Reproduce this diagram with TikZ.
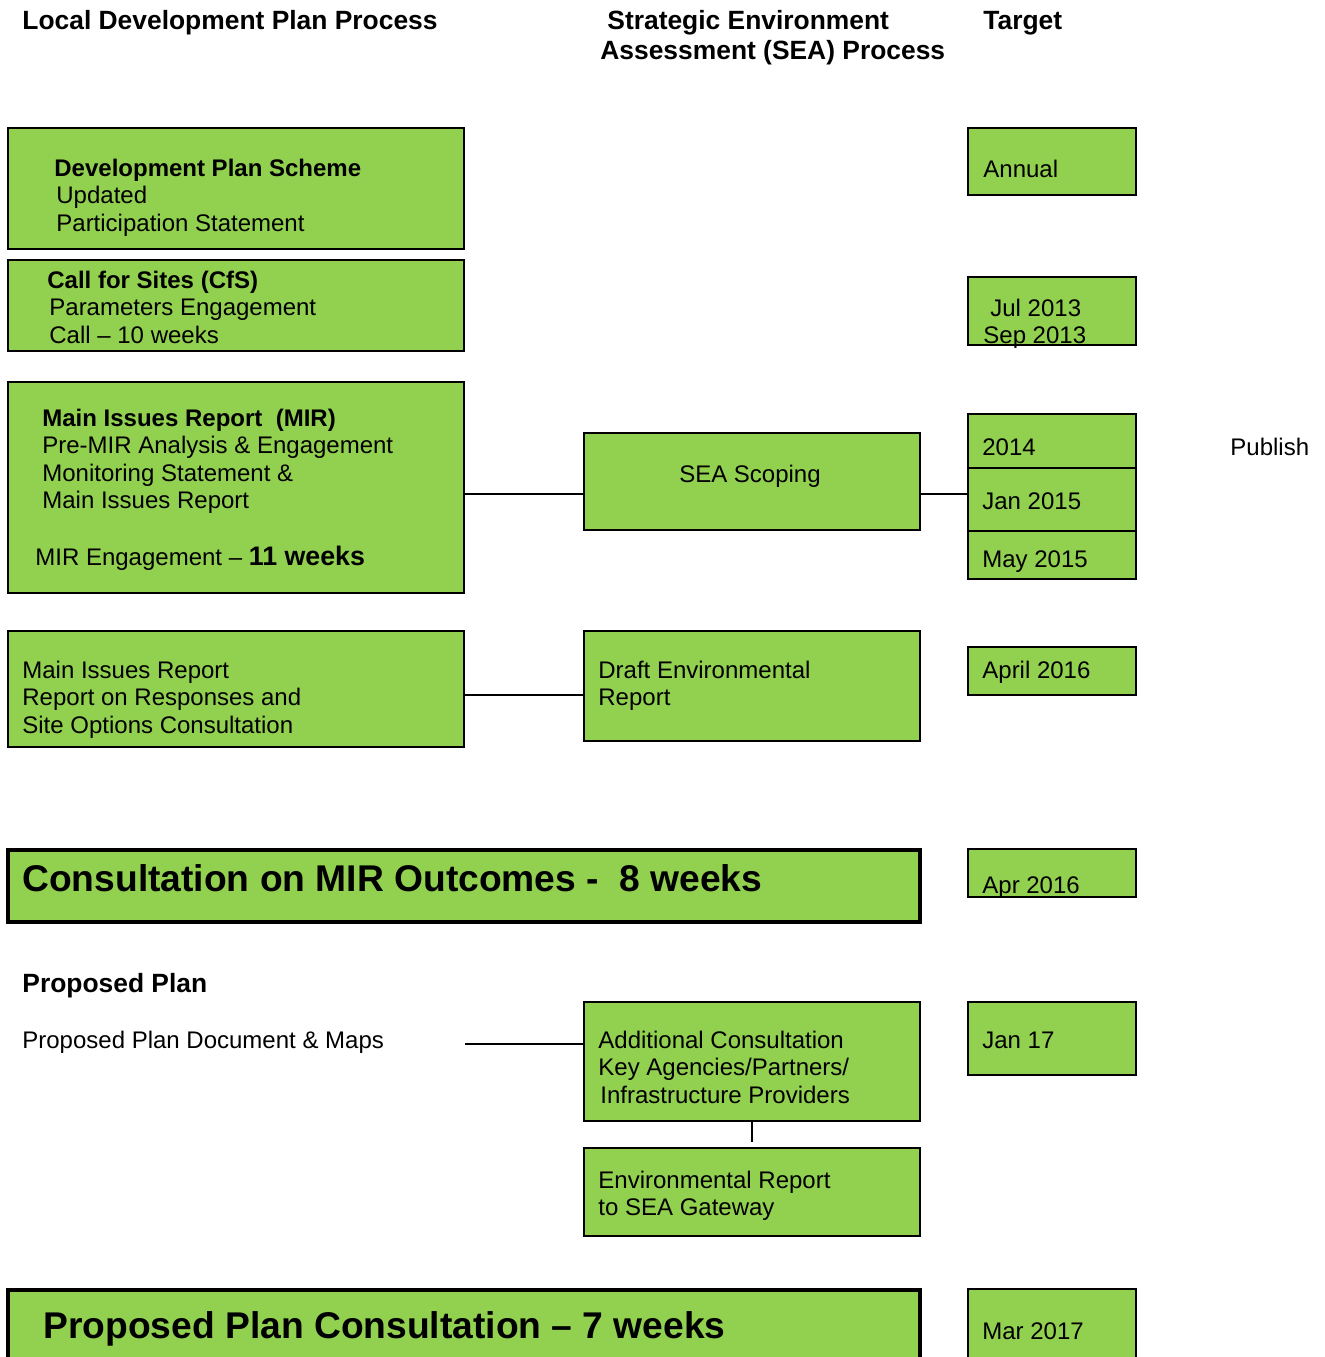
\documentclass[tikz,border=0pt]{standalone}
\usepackage{fontspec}
\setmainfont{Liberation Sans}
\usetikzlibrary{fit}
\definecolor{lgreen}{HTML}{92D050}
\newcommand\mlines[1]{\begin{tabular}[t]{@{}l@{}}#1\end{tabular}}
\begin{document}
\begin{tikzpicture}[x=0.5pt,y=-0.5pt,
  box/.style={draw=black, fill=lgreen, line width=1pt, inner sep=0pt, rectangle},
  thinbox/.style={box, line width=0.6pt},
  bigbox/.style={box, line width=2.4pt},
  txt/.style={inner sep=0pt, anchor=base west, font=\fontsize{12}{13.75}\selectfont},
  head/.style={txt, font=\fontsize{13.2}{15.2}\selectfont\bfseries},
  bigtxt/.style={txt, font=\fontsize{18.6}{21}\selectfont\bfseries},
  conn/.style={draw=black, line width=0.75pt}]
\useasboundingbox (0,0) rectangle (1325,1357);
\clip (0,0) rectangle (1325,1357);
\fill[white] (0,0) rectangle (1325,1357);

% headings
\node[head] (h1) at (22,29) {Local Development Plan Process};
\node[head] (h2) at (607,29) {Strategic Environment};
\node[head] (h3) at (600,59) {Assessment (SEA) Process};
\node[head] (h4) at (983,29) {Target};

% left column boxes
\node[box, fit={(8,128) (464,249)}] (dps) {};
\node[box, fit={(8,260) (464,351)}] (cfs) {};
\node[box, fit={(8,382) (464,593)}] (mir) {};
\node[box, fit={(8,631) (464,747)}] (resp) {};
\node[bigbox, fit={(8,850) (920,922)}] (cons) {};
\node[bigbox, fit={(8,1290) (920,1420)}] (ppc) {};

% SEA column boxes
\node[box, fit={(584,433) (920,530)}] (sea) {};
\node[box, fit={(584,631) (920,741)}] (der) {};
\node[box, fit={(584,1002) (920,1121)}] (ac) {};
\node[box, fit={(584,1148) (920,1236)}] (erg) {};

% target column boxes
\node[box, fit={(968,128) (1136,195)}] (annual) {};
\node[box, fit={(968,277) (1136,345)}] (jul) {};
\node[thinbox, fit={(968,531) (1136,579)}] (may15) {};
\node[box, fit={(968,468) (1136,531)}] (jan15) {};
\node[box, fit={(968,414) (1136,468)}] (y2014) {};
\node[box, fit={(968,647) (1136,695)}] (apr16a) {};
\node[thinbox, fit={(968,849) (1136,897)}] (apr16b) {};
\node[box, fit={(968,1002) (1136,1075)}] (jan17) {};
\node[thinbox, fit={(968,1289) (1136,1420)}] (mar17) {};

% texts left column
\node[txt] (dpsT) at (54,176) {\mlines{\textbf{Development Plan Scheme}\\\hspace*{1pt}Updated\\\hspace*{1pt}Participation Statement}};
\node[txt] (cfsT) at (47,288) {\mlines{\textbf{Call for Sites (CfS)}\\\hspace*{1pt}Parameters Engagement\\\hspace*{1pt}Call – 10 weeks}};
\node[txt] (mirT) at (42,426) {\mlines{\textbf{Main Issues Report\ \ (MIR)}\\Pre-MIR Analysis \& Engagement\\Monitoring Statement \&\\Main Issues Report}};
\node[txt] (mirE) at (35,565) {MIR Engagement – {\fontsize{13.4}{15}\selectfont\bfseries 11 weeks}};
\node[txt] (respT) at (22,678) {\mlines{Main Issues Report\\Report on Responses and\\Site Options Consultation}};
\node[bigtxt] (consT) at (22,891) {Consultation on MIR Outcomes -\ \ 8 weeks};
\node[head] (ppH) at (22,992) {Proposed Plan};
\node[txt] (ppD) at (22,1048) {Proposed Plan Document \& Maps};
\node[bigtxt] (ppcT) at (43,1338) {Proposed Plan Consultation – 7 weeks};

% texts SEA column
\node[txt, anchor=base] (seaT) at (750,482) {SEA Scoping};
\node[txt] (derT) at (598,678) {\mlines{Draft Environmental\\Report}};
\node[txt] (acT) at (598,1048) {\mlines{Additional Consultation\\Key Agencies/Partners/\\\hspace*{1pt}Infrastructure Providers}};
\node[txt] (ergT) at (598,1188) {\mlines{Environmental Report\\to SEA Gateway}};

% texts target column
\node[txt] (annualT) at (983,177) {Annual};
\node[txt] (julT) at (983,316) {\mlines{\hspace*{3.5pt}Jul 2013\\Sep 2013}};
\node[txt] (y2014T) at (982,455) {2014};
\node[txt] (jan15T) at (982,509) {Jan 2015};
\node[txt] (may15T) at (982,567) {May 2015};
\node[txt] (apr16aT) at (982,678) {April 2016};
\node[txt] (apr16bT) at (982,893) {Apr 2016};
\node[txt] (jan17T) at (982,1048) {Jan 17};
\node[txt] (mar17T) at (982,1339) {Mar 2017};
\node[txt] (publish) at (1230,455) {Publish};

% connectors
\coordinate (k1) at (524,494);
\draw[conn] (mir.east |- k1) -- (sea.west |- k1);
\draw[conn] (sea.east |- k1) -- (jan15.west |- k1);
\coordinate (k2) at (524,695);
\draw[conn] (resp.east |- k2) -- (der.west |- k2);
\coordinate (ppstart) at (465,1044);
\draw[conn] (ppstart) -- (ac.west |- ppstart);
\draw[conn] (ac.south) -- ([yshift=2.5pt]erg.north);
\end{tikzpicture}
\end{document}
